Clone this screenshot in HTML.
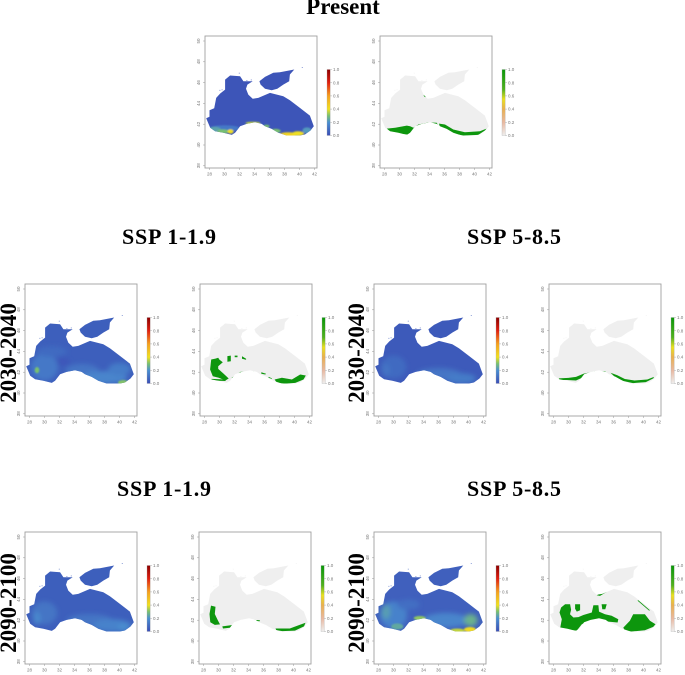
<!DOCTYPE html>
<html>
<head>
<meta charset="utf-8">
<style>
html,body{margin:0;padding:0;background:#fff;width:685px;height:675px;overflow:hidden}
svg{display:block}
.title{font-family:"Liberation Serif",serif;font-weight:bold;fill:#000;text-anchor:middle}
.tick{font-family:"Liberation Sans",sans-serif;font-size:4.5px;fill:#777}
</style>
</head>
<body>
<svg id="fig" width="685" height="675" viewBox="0 0 685 675" xmlns="http://www.w3.org/2000/svg">
  <defs>
    <filter id="soft" filterUnits="userSpaceOnUse" x="0" y="0" width="685" height="675"><feGaussianBlur stdDeviation="2.4"/></filter>
    <filter id="fine" filterUnits="userSpaceOnUse" x="0" y="0" width="685" height="675"><feGaussianBlur stdDeviation="0.9"/></filter>
    <filter id="edge" filterUnits="userSpaceOnUse" x="0" y="0" width="685" height="675"><feGaussianBlur stdDeviation="0.35"/></filter>
  </defs>
  <text class="title" x="343" y="14" font-size="23">Present</text>
  <text class="title" x="169" y="244" font-size="22" textLength="94">SSP 1-1.9</text>
  <text class="title" x="514" y="244" font-size="22" textLength="94">SSP 5-8.5</text>
  <text class="title" x="164" y="496" font-size="22" textLength="94">SSP 1-1.9</text>
  <text class="title" x="514" y="496" font-size="22" textLength="94">SSP 5-8.5</text>
  <text class="title" transform="translate(16,353) rotate(-90)" font-size="23">2030-2040</text>
  <text class="title" transform="translate(364,353) rotate(-90)" font-size="23">2030-2040</text>
  <text class="title" transform="translate(16,603) rotate(-90)" font-size="23">2090-2100</text>
  <text class="title" transform="translate(364,603) rotate(-90)" font-size="23">2090-2100</text>
</svg>
<script>
// Tick labels
var xTickLabels = [28,30,32,34,36,38,40,42];
var yTickLabels = [50,48,46,44,42,40,38];
var barTickLabels = [0,0.2,0.4,0.6,0.8,1];

// Coastlines, [lon, lat]
var blackSeaCoast = [[27.56,42.58],[28,42.71],[28,43.35],[28.62,43.54],[28.89,44.53],[29.42,44.95],[30.08,45.33],[30.08,46.29],[30.75,46.68],[32.08,46.62],[32.52,46.13],[33.76,46.13],[33.05,45.81],[32.87,45.4],[33.18,44.85],[33.76,44.44],[34.51,44.53],[36.06,45.01],[37.84,44.69],[38.72,44.31],[40.05,43.57],[41.38,42.83],[41.91,41.81],[41.47,41.39],[40.72,41.01],[40.05,40.91],[38.28,40.91],[37.17,41.17],[36.29,41.55],[35.4,41.81],[34.96,42.03],[34.07,42.19],[32.96,42.03],[32.08,41.81],[31.41,41.17],[30.97,40.97],[29.86,41.17],[28.75,41.33],[28.09,41.65]];
var azovCoast = [[34.65,46.13],[35.4,46.55],[36.51,46.94],[37.39,47],[39.3,47.26],[38.72,46.78],[38.63,46.13],[37.84,45.81],[37.04,45.4],[36.29,45.27],[35.4,45.4],[34.82,45.81]];
var speckles = [[31.9,46.95],[32.9,46.25],[29.3,45.3],[29.6,45.35],[40.3,47.5],[33.5,46.3]];

// Suitability hot spots: [lon, lat, lon radius, lat radius, value]
var presentBase = 0.02;
var presentSpots = [[30,41.6,2,0.3,0.13],[28.7,41.5,0.8,0.25,0.24],[29.8,41.3,0.8,0.2,0.3],[30.8,41.3,0.4,0.2,0.4],[33.8,42.1,1,0.14,0.36],[35.6,41.8,0.4,0.15,0.3],[36.8,41.35,0.7,0.2,0.3],[38.5,41,1.2,0.22,0.44],[39.8,41.1,0.8,0.22,0.4],[41,41.4,0.6,0.3,0.22]];
var ssp119Mid2030Base = 0.05;
var ssp119Mid2030Spots = [[30,42.5,1.8,1.3,0.13],[35,42.2,2.2,0.6,0.12],[38,41.5,3,0.6,0.17],[40,42.3,1.5,0.6,0.14],[31,44,2,0.5,0.09],[32.5,43,0.9,0.4,0.03],[29,42.2,0.3,0.3,0.3],[40.5,41,0.7,0.25,0.31]];
var ssp585Mid2030Base = 0.04;
var ssp585Mid2030Spots = [[30,42.5,1.7,1.1,0.09],[36,41.8,3,0.6,0.12],[39,41.4,2,0.5,0.14],[29,42.2,0.5,0.6,0.12]];
var ssp119End2090Base = 0.05;
var ssp119End2090Spots = [[30,42.7,1.7,1.1,0.12],[29,42.2,0.5,0.6,0.18],[36,42,3,0.6,0.12],[39,41.5,2.6,0.6,0.16],[40.5,41.3,0.8,0.4,0.19]];
var ssp585End2090Base = 0.06;
var ssp585End2090Spots = [[30,42.5,1.8,1.3,0.16],[29,42.8,0.6,0.7,0.23],[37,42,3,0.7,0.17],[40.3,42,0.9,0.6,0.27],[32,43.5,1.5,0.5,0.1],[30.5,41.4,0.8,0.3,0.25],[33.5,42.2,0.8,0.2,0.32],[38.5,41,1,0.2,0.36],[40.2,41.1,0.8,0.25,0.42]];

// Binary presence patches, [lon, lat] rings
var presentPatches = [
 [[28.31,41.58],[29.42,41.65],[30.97,41.87],[31.41,41.81],[31.85,41.65],[32.52,41.97],[33.85,42.16],[34.96,42.13],[35.09,41.97],[33.85,41.97],[32.74,41.81],[31.85,41.49],[31.19,41.0],[29.86,41.1],[28.75,41.3]],
 [[35.27,42.06],[36.06,41.97],[37.17,41.49],[38.72,41.23],[40.72,41.33],[41.6,41.58],[41.38,41.39],[40.49,40.97],[38.5,40.91],[37.17,41.1],[36.06,41.55],[35.4,41.71]],
 [[33.18,44.92],[33.49,44.79],[33.45,44.6],[33.27,44.69]]
];
var ssp119Mid2030Patches = [
 [[28.89,43.22],[29.46,43.31],[29.82,43.38],[30,43.19],[30.44,42.96],[29.82,42.58],[29.82,42.32],[30.57,41.84],[31.23,41.39],[30.79,41.2],[29.91,41.46],[29.11,41.62],[28.75,42.26]],
 [[28.93,41.36],[30.8,41.3],[30.8,41.15],[28.93,41.2]],
 [[31.05,43.55],[31.5,43.6],[31.5,43.05],[31.05,43]],
 [[32.03,43.6],[32.4,43.6],[32.4,43.44],[32.03,43.44]],
 [[33,43.54],[33.55,43.3],[33.55,43.2],[33,43.3]],
 [[31.6,41.45],[32.78,42.03],[34.56,42.1],[34.56,41.97],[33,41.9],[31.9,41.45]],
 [[35.58,42],[36.2,41.85],[36.1,41.78],[35.58,41.85]],
 [[36.55,41.55],[37,41.4],[37,41.36],[36.55,41.45]],
 [[37.35,41.3],[38.32,41.46],[39.65,41.3],[40.76,41.78],[41.51,41.68],[41.2,41.3],[40.1,40.97],[38.77,40.9],[37.66,40.97]]
];
var ssp585Mid2030Patches = [
 [[28.7,41.4],[30,41.45],[31,41.55],[32,41.85],[33.5,42.1],[34.9,42.1],[35,41.95],[33.4,41.95],[32.2,41.6],[31,41.2],[29.8,41.25],[28.8,41.25]],
 [[35.6,41.95],[36.5,41.7],[37.5,41.35],[38.8,41.2],[40.5,41.3],[41.4,41.55],[41.3,41.4],[40.3,41.05],[38.6,40.95],[37.3,41.15],[36.1,41.6]],
 [[33.3,45],[33.5,44.9],[33.45,44.75],[33.3,44.85]]
];
var ssp119End2090Patches = [
 [[29,43.4],[29.6,43.3],[29.5,42.6],[29.9,42],[30.2,41.6],[29.5,41.55],[28.9,41.8],[28.8,42.6]],
 [[30.5,41.4],[32.5,41.6],[33,41.9],[33.3,41.85],[32.4,41.35],[30.6,41.2]],
 [[34.5,42.05],[35.5,42],[35.5,41.9],[34.5,41.95]],
 [[37.6,41.2],[39.5,41.2],[41,41.6],[41.6,41.75],[41.4,41.4],[40.2,41],[38.5,40.95],[37.7,41.05]]
];
var ssp585End2090Patches = [
 [[29.02,43.22],[29.55,43.54],[30.22,43.54],[30.35,43],[30.2,42.58],[30.65,42.26],[31.32,42.3],[31.99,42.5],[33.1,42.74],[33.32,43.44],[33.98,43.44],[34.07,42.83],[34.87,42.58],[35.75,42.42],[36.64,42.1],[36.55,41.78],[35.31,41.87],[34.2,42.1],[32.87,42],[31.77,41.62],[31.1,41.0],[29.55,41.1],[28.89,41.25],[29.11,42.1],[28.8,42.74]],
 [[37.3,41.29],[38.19,41.94],[38.63,42.58],[40.18,42.58],[40.85,41.94],[41.6,41.62],[41.29,41.36],[40.18,41.04],[38.41,40.91],[37.53,40.97]],
 [[30.88,43.54],[31.55,43.54],[31.55,42.95],[31.1,42.83],[30.88,43.1]],
 [[34.42,43.54],[35.09,43.54],[34.9,43.06],[34.5,43.06]],
 [[33.3,45.08],[33.6,44.9],[33.6,44.66],[33.35,44.8]],
 [[33.76,44.4],[35.09,44.88],[35.09,44.72],[34.2,44.34]],
 [[39.3,43.92],[40.85,42.96],[40.75,42.92],[39.2,43.88]]
];

// Colour ramps: value stops and colours
var heatValues = [0,0.2,0.3,0.4,0.6,0.8,1];
var heatColors = ['#3a4db5','#4a8fd0','#78c070','#f0e020','#f5a020','#e02010','#8b0000'];
var binValues = [0,0.2,0.4,0.55,0.7,1];
var binColors = ['#eeeeee','#e8b8a0','#e8b050','#e8e020','#50b020','#0a960a'];

var SVGNS = 'http://www.w3.org/2000/svg';
var fig = document.getElementById('fig');
var LON0 = 28, LAT0 = 50, PX_LON = 7.5, PX_LAT = 10.4;

function el(tag, parent, attrs) {
  var e = document.createElementNS(SVGNS, tag);
  for (var k in attrs) e.setAttribute(k, attrs[k]);
  parent.appendChild(e);
  return e;
}
function hexRgb(h) { return [1,3,5].map(function(i){ return parseInt(h.substr(i,2),16); }); }
function ramp(v, values, colors) {
  for (var i = 1; i < values.length; i++) {
    if (v <= values[i]) {
      var t = (v - values[i-1]) / (values[i] - values[i-1]);
      var a = hexRgb(colors[i-1]), b = hexRgb(colors[i]);
      return 'rgb(' + a.map(function(c,j){ return Math.round(c + (b[j]-c)*t); }).join(',') + ')';
    }
  }
  return colors[colors.length-1];
}

function drawFrame(g, left, top, width, height) {
  var x = function(lon){ return left + 4.5 + (lon - LON0) * PX_LON; };
  var y = function(lat){ return top + 5 + (LAT0 - lat) * PX_LAT; };

  var axisLine = el('rect', g, {x:left, y:top, width:width, height:height, fill:'none', stroke:'#a0a0a0', 'stroke-width':0.9});
  
  

  xTickLabels.forEach(function(v){
    var mark = el('line', g, {x1:x(v), x2:x(v), y1:top+height, y2:top+height+2, stroke:'#999', 'stroke-width':0.5});
    
    
    var lab = el('text', g, {x:x(v), y:top+height+7.5, 'class':'tick', 'text-anchor':'middle'});
    lab.textContent = v;
    
    
  });
  yTickLabels.forEach(function(v){
    var mark = el('line', g, {x1:left-2, x2:left, y1:y(v), y2:y(v), stroke:'#999', 'stroke-width':0.5});
    
    
    var lab = el('text', g, {transform:'translate('+(left-5)+','+y(v)+') rotate(-90)', 'class':'tick', 'text-anchor':'middle'});
    lab.textContent = v;
    
    
  });
  return {x:x, y:y};
}

function ringPoints(ring, s) {
  return ring.map(function(p){ return s.x(p[0]).toFixed(1) + ',' + s.y(p[1]).toFixed(1); }).join(' ');
}

function drawColorbar(g, id, left, top, values, colors) {
  var h = 66;
  var grad = el('linearGradient', g, {id:id, x1:0, y1:1, x2:0, y2:0});
  values.forEach(function(v, i){
    el('stop', grad, {offset:v, 'stop-color':colors[i]});
  });
  var bar = el('rect', g, {x:left, y:top, width:3.2, height:h, fill:'url(#'+id+')', stroke:'#aaa', 'stroke-width':0.3});
  
  
  barTickLabels.forEach(function(v){
    var yy = top + h - v * h;
    el('line', g, {x1:left+3.2, x2:left+5, y1:yy, y2:yy, stroke:'#999', 'stroke-width':0.4});
    var lab = el('text', g, {x:left+6, y:yy+1.6, 'class':'tick'});
    lab.textContent = v.toFixed(1);
    
    
  });
}

function drawSea(g, id, s, fill) {
  var clip = el('clipPath', g, {id:id});
  el('polygon', clip, {points:ringPoints(blackSeaCoast, s)});
  el('polygon', clip, {points:ringPoints(azovCoast, s)});
  var sea = el('g', g, {filter:'url(#edge)'});
  
  
  el('polygon', sea, {points:ringPoints(blackSeaCoast, s), fill:fill});
  el('polygon', sea, {points:ringPoints(azovCoast, s), fill:fill});
  speckles.forEach(function(p){
    el('rect', sea, {x:s.x(p[0]), y:s.y(p[1]), width:1.2, height:0.9, fill:fill, opacity:0.55});
  });
}

function heatPanel(id, left, top, base, spots) {
  var g = el('g', fig, {id:id});
  
  
  var s = drawFrame(g, left, top, 112, 132);
  drawSea(g, id + '-clip', s, ramp(base, heatValues, heatColors));
  var clipped = el('g', g, {'clip-path':'url(#' + id + '-clip)'});
  var wide = el('g', clipped, {filter:'url(#soft)'});
  var narrow = el('g', clipped, {filter:'url(#fine)'});
  spots.forEach(function(d){
    var host = d[3] < 0.35 ? narrow : wide;
    var e = el('ellipse', host, {cx:s.x(d[0]), cy:s.y(d[1]), rx:d[2]*PX_LON, ry:d[3]*PX_LAT, fill:ramp(d[4], heatValues, heatColors)});
    
    
  });
  drawColorbar(g, id + '-grad', left + 122, top + 33.5, heatValues, heatColors);
}

function binPanel(id, left, top, patches) {
  var g = el('g', fig, {id:id});
  
  
  var s = drawFrame(g, left, top, 112, 132);
  drawSea(g, id + '-clip', s, '#efefef');
  var clipped = el('g', g, {'clip-path':'url(#' + id + '-clip)'});
  var soft = el('g', clipped, {filter:'url(#edge)'});
  patches.forEach(function(r){
    var p = el('polygon', soft, {points:ringPoints(r, s), fill:'#0a960a'});
    
    
  });
  drawColorbar(g, id + '-grad', left + 122, top + 33.5, binValues, binColors);
}

heatPanel('present-heat', 205, 36, presentBase, presentSpots);
binPanel('present-bin', 380, 36, presentPatches);
heatPanel('ssp119-2030-heat', 25, 284, ssp119Mid2030Base, ssp119Mid2030Spots);
binPanel('ssp119-2030-bin', 200, 284, ssp119Mid2030Patches);
heatPanel('ssp585-2030-heat', 374, 284, ssp585Mid2030Base, ssp585Mid2030Spots);
binPanel('ssp585-2030-bin', 549, 284, ssp585Mid2030Patches);
heatPanel('ssp119-2090-heat', 25, 532, ssp119End2090Base, ssp119End2090Spots);
binPanel('ssp119-2090-bin', 199, 532, ssp119End2090Patches);
heatPanel('ssp585-2090-heat', 374, 532, ssp585End2090Base, ssp585End2090Spots);
binPanel('ssp585-2090-bin', 549, 532, ssp585End2090Patches);
</script>
</body>
</html>
